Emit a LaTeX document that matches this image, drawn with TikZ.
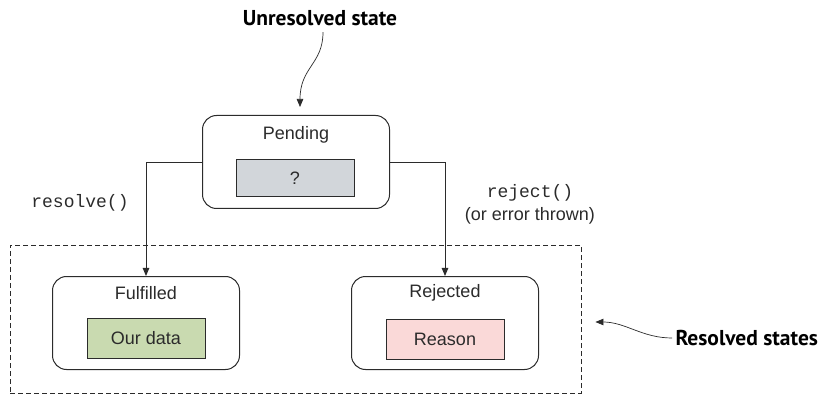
\documentclass[tikz,border=0pt]{standalone}
\usepackage{fontspec}
\setmainfont{Liberation Sans}
\setmonofont{Liberation Mono}
\newfontfamily\calloutfont{PT Sans}
\usepackage{tikz}
\usepackage{xcolor}
\usetikzlibrary{arrows.meta,positioning}
\definecolor{Ink}{HTML}{2B2B2B}
\definecolor{Grey}{HTML}{D2D6DA}
\definecolor{Green}{HTML}{C9DAB0}
\definecolor{Pink}{HTML}{FAD9D8}
\tikzset{
  statebox/.style={
    rounded corners=14pt,draw=Ink,line width=1pt,fill=white,
    minimum width=187pt,minimum height=93pt
  },
  valuebox/.style={
    draw=Ink,line width=1pt,minimum width=118pt,minimum height=40pt,
    font=\fontsize{18}{21}\selectfont,text=Ink
  },
  title/.style={font=\fontsize{18}{21}\selectfont,text=Ink},
  arrow/.style={-{Triangle[length=8pt,width=6.5pt]},line width=0.9pt,draw=Ink},
  callout/.style={font=\calloutfont\bfseries\fontsize{21.5}{24}\selectfont,text=black}
}
\begin{document}
\begin{tikzpicture}[x=1pt,y=-1pt]
  \useasboundingbox (0,0) rectangle (832,395);
  % resolved group
  \node[draw=Ink,dash pattern=on 5pt off 3pt,line width=0.9pt,
    minimum width=571pt,minimum height=148pt] (resolvedbox) at (295.5,319) {};
  % states
  \node[statebox] (pending) at (296,162) {};
  \node[title] (pendingtitle) at (296,135) {Pending};
  \node[valuebox,fill=Grey,minimum height=37pt] (unknown) at (295,178.5) {?};
  \node[statebox] (fulfilled) at (146,323) {};
  \node[title] (fulfilledtitle) at (146,293) {Fulfilled};
  \node[valuebox,fill=Green] (data) at (146,338.5) {Our data};
  \node[statebox] (rejected) at (445,323) {};
  \node[title] (rejectedtitle) at (445,293) {Rejected};
  \node[valuebox,fill=Pink] (reason) at (445,339) {Reason};
  % transitions
  \draw[arrow] (pending.west) -| (fulfilled.north);
  \draw[arrow] (pending.east) -| (rejected.north);
  \node[title,font=\ttfamily\fontsize{18}{21}\selectfont] (resolvelbl) at (80,203) {resolve()};
  \node[title,align=center,font=\fontsize{18}{23}\selectfont] (rejectlbl) at (530,204)
    {{\ttfamily reject()}\\(or error thrown)};
  % callouts
  \node[callout] (unresolved) at (320,18) {Unresolved state};
  \draw[arrow,line width=0.7pt] ([xshift=3pt,yshift=-3pt]unresolved.south)
    .. controls +(0,32) and +(0,-40) .. ([shift={(4,-8)}]pending.north);
  \node[callout,anchor=west] (resolved) at (672,338) {Resolved states};
  \draw[arrow,line width=0.7pt] (resolved.west)
    .. controls +(-30,0) and +(30,0) .. ([shift={(14,3)}]resolvedbox.east);
\end{tikzpicture}
\end{document}
